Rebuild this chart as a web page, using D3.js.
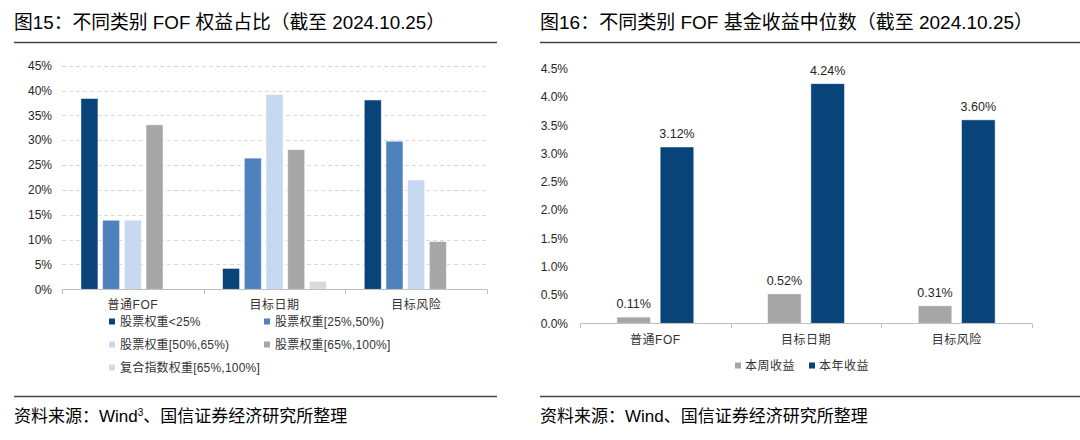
<!DOCTYPE html>
<html><head><meta charset="utf-8">
<script src="https://cdn.jsdelivr.net/npm/d3@7/dist/d3.min.js"></script>
<style>
html,body{margin:0;padding:0;background:#fff;}
svg{display:block;}
text{font-family:"Liberation Sans","Noto Sans CJK SC",Arial,sans-serif;}
</style></head>
<body>
<svg id="c" width="1080" height="440"></svg>
<script>
// ---- Data: left chart ----
const leftCategories = ["普通FOF", "目标日期", "目标风险"];
const leftSeries = ["股票权重<25%", "股票权重[25%,50%)", "股票权重[50%,65%)", "股票权重[65%,100%]", "复合指数权重[65%,100%]"];
const sLt25 = [0.384, 0.042, 0.381];
const s25to50 = [0.139, 0.264, 0.298];
const s50to65 = [0.139, 0.392, 0.220];
const s65to100 = [0.331, 0.281, 0.096];
const sIndex65to100 = [null, 0.016, null];
const leftTicks = [0, 0.05, 0.10, 0.15, 0.20, 0.25, 0.30, 0.35, 0.40, 0.45];
// ---- Data: right chart ----
const rightCategories = ["普通FOF", "目标日期", "目标风险"];
const rightSeries = ["本周收益", "本年收益"];
const weekReturn = [0.0011, 0.0052, 0.0031];
const yearReturn = [0.0312, 0.0424, 0.0360];
const rightTicks = [0, 0.005, 0.010, 0.015, 0.020, 0.025, 0.030, 0.035, 0.040, 0.045];

const leftColors = ["#08437a", "#4f81bd", "#c6d9f1", "#a6a6a6", "#d9d9d9"];
const rightColors = ["#a6a6a6", "#08437a"];

const svg = d3.select("#c");

// ---- Titles & frame lines ----
function header(x, x2, title, fs) {
  svg.append("text").attr("x", x).attr("y", 29).attr("font-size", fs).attr("fill", "#000").text(title);
  svg.append("line").attr("x1", x).attr("x2", x2).attr("y1", 42.5).attr("y2", 42.5).attr("stroke", "#444").attr("stroke-width", 1.3);
  svg.append("line").attr("x1", x).attr("x2", x2).attr("y1", 396.5).attr("y2", 396.5).attr("stroke", "#444").attr("stroke-width", 1.3);
}
header(14, 497, "图15：不同类别 FOF 权益占比（截至 2024.10.25）", 18.8);
header(540, 1080, "图16：不同类别 FOF 基金收益中位数（截至 2024.10.25）", 19);

const src1 = svg.append("text").attr("x", 14).attr("y", 422).attr("font-size", 17).attr("fill", "#000");
src1.append("tspan").text("资料来源：Wind");
src1.append("tspan").attr("font-size", 10).attr("dy", -6).text("3");
src1.append("tspan").attr("dy", 6).text("、国信证券经济研究所整理");
svg.append("text").attr("x", 540).attr("y", 422).attr("font-size", 17).attr("fill", "#000").text("资料来源：Wind、国信证券经济研究所整理");

// ---- Left chart ----
{
  const x0 = d3.scaleBand().domain(leftCategories).range([62, 487]).paddingInner(0).paddingOuter(0);
  const x1 = d3.scaleBand().domain(leftSeries).range([0, x0.bandwidth()]).paddingInner(0.217).paddingOuter(0.873);
  const y = d3.scaleLinear().domain([0, 0.45]).range([289.3, 65.7]);
  const g = svg.append("g");
  g.selectAll(".grid").data(leftTicks.filter(d => d > 0)).join("line")
    .attr("x1", 62).attr("x2", 487).attr("y1", d => Math.round(y(d)) + 0.5).attr("y2", d => Math.round(y(d)) + 0.5)
    .attr("stroke", "#d9d9d9").attr("stroke-dasharray", "4,3").attr("stroke-width", 1);
  g.selectAll(".yl").data(leftTicks).join("text")
    .attr("x", 52).attr("y", d => y(d)).attr("dy", "0.35em").attr("text-anchor", "end")
    .attr("font-size", 12).attr("fill", "#262626").text(d => d3.format(".0%")(d));
  const seriesVals = [sLt25, s25to50, s50to65, s65to100, sIndex65to100];
  leftSeries.forEach((s, si) => {
    g.selectAll(".b" + si).data(leftCategories.map((c, ci) => ({c, v: seriesVals[si][ci]})).filter(d => d.v != null)).join("rect")
      .attr("x", d => x0(d.c) + x1(s)).attr("width", x1.bandwidth())
      .attr("y", d => y(d.v)).attr("height", d => y(0) - y(d.v))
      .attr("fill", leftColors[si]).attr("stroke", "#fff").attr("stroke-opacity", 0.6).attr("stroke-width", 0.8);
  });
  g.append("line").attr("x1", 62).attr("x2", 487).attr("y1", 289.5).attr("y2", 289.5).attr("stroke", "#bfbfbf");
  const bounds = leftCategories.map(c => x0(c)).concat([487]);
  g.selectAll(".tk").data(bounds).join("line")
    .attr("x1", d => Math.round(d) + 0.5).attr("x2", d => Math.round(d) + 0.5).attr("y1", 289.5).attr("y2", 294)
    .attr("stroke", "#bfbfbf");
  g.selectAll(".xl").data(leftCategories).join("text")
    .attr("x", d => x0(d) + x0.bandwidth() / 2).attr("y", 305).attr("dy", "0.35em").attr("text-anchor", "middle")
    .attr("font-size", 12).attr("fill", "#333").attr("letter-spacing", 0.5).text(d => d);
  const legPos = [[109, 321.5], [264, 321.5], [109, 344.5], [264, 344.5], [109, 367.5]];
  leftSeries.forEach((s, i) => {
    const [lx, ly] = legPos[i];
    g.append("rect").attr("x", lx).attr("y", ly - 3).attr("width", 6).attr("height", 6).attr("fill", leftColors[i]);
    g.append("text").attr("x", lx + 11).attr("y", ly).attr("dy", "0.35em").attr("font-size", 12).attr("fill", "#333").attr("letter-spacing", 0.2).text(s);
  });
}

// ---- Right chart ----
{
  const x0 = d3.scaleBand().domain(rightCategories).range([580, 1032]).paddingInner(0).paddingOuter(0);
  const x1 = d3.scaleBand().domain(rightSeries).range([0, x0.bandwidth()]).paddingInner(0.224).paddingOuter(0.852);
  const y = d3.scaleLinear().domain([0, 0.045]).range([323.3, 69]);
  const g = svg.append("g");
  g.selectAll(".yl").data(rightTicks).join("text")
    .attr("x", 568).attr("y", d => y(d)).attr("dy", "0.35em").attr("text-anchor", "end")
    .attr("font-size", 12).attr("fill", "#262626").text(d => d3.format(".1%")(d));
  const vals = [weekReturn, yearReturn];
  rightSeries.forEach((s, si) => {
    const data = rightCategories.map((c, ci) => ({c, v: vals[si][ci]}));
    g.selectAll(".b" + si).data(data).join("rect")
      .attr("x", d => x0(d.c) + x1(s)).attr("width", x1.bandwidth())
      .attr("y", d => y(d.v)).attr("height", d => y(0) - y(d.v))
      .attr("fill", rightColors[si]).attr("stroke", "#fff").attr("stroke-opacity", 0.6).attr("stroke-width", 0.8);
    g.selectAll(".v" + si).data(data).join("text")
      .attr("x", d => x0(d.c) + x1(s) + x1.bandwidth() / 2).attr("y", d => y(d.v) - 9)
      .attr("text-anchor", "middle").attr("font-size", 12.5).attr("fill", "#262626")
      .text(d => d3.format(".2%")(d.v));
  });
  g.append("line").attr("x1", 580).attr("x2", 1032).attr("y1", 323.5).attr("y2", 323.5).attr("stroke", "#bfbfbf");
  const bounds = rightCategories.map(c => x0(c)).concat([1032]);
  g.selectAll(".tk").data(bounds).join("line")
    .attr("x1", d => Math.round(d) + 0.5).attr("x2", d => Math.round(d) + 0.5).attr("y1", 323.5).attr("y2", 328)
    .attr("stroke", "#bfbfbf");
  g.selectAll(".xl").data(rightCategories).join("text")
    .attr("x", d => x0(d) + x0.bandwidth() / 2).attr("y", 340).attr("dy", "0.35em").attr("text-anchor", "middle")
    .attr("font-size", 12).attr("fill", "#333").attr("letter-spacing", 0.5).text(d => d);
  const legPos = [[735, 365.5], [809, 365.5]];
  rightSeries.forEach((s, i) => {
    const [lx, ly] = legPos[i];
    g.append("rect").attr("x", lx).attr("y", ly - 3).attr("width", 6).attr("height", 6).attr("fill", rightColors[i]);
    g.append("text").attr("x", lx + 10).attr("y", ly).attr("dy", "0.35em").attr("font-size", 12).attr("fill", "#333").attr("letter-spacing", 0.5).text(s);
  });
}
</script>
</body></html>
